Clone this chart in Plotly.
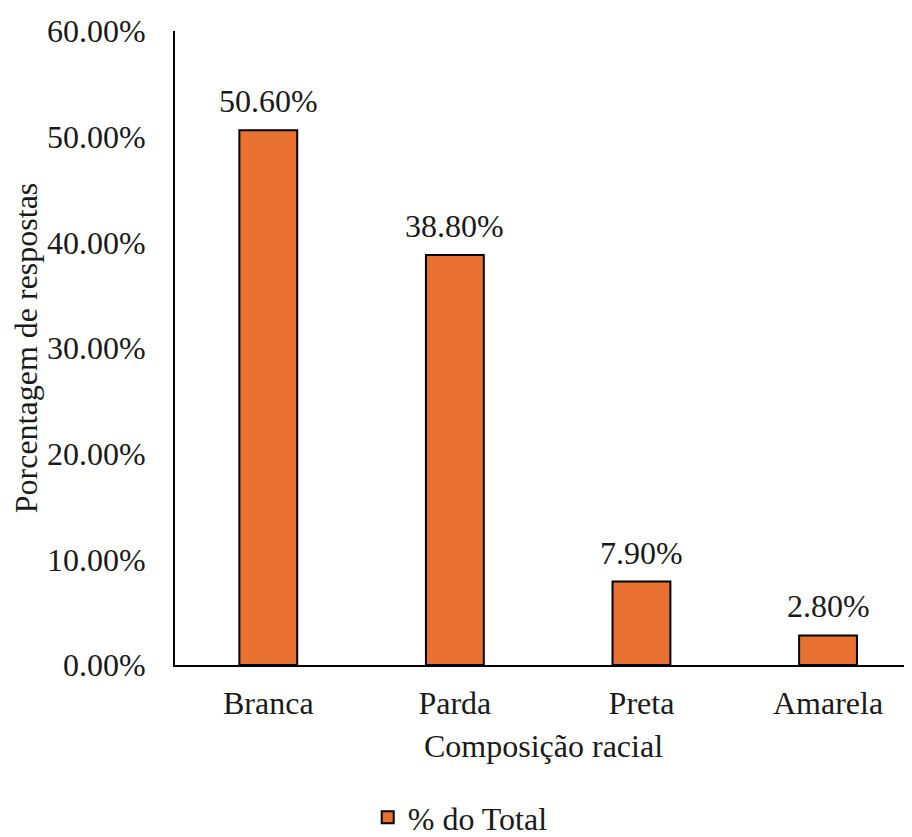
import plotly.graph_objects as go

categories = ["Branca", "Parda", "Preta", "Amarela"]
values = [50.6, 38.8, 7.9, 2.8]
labels = ["50.60%", "38.80%", "7.90%", "2.80%"]
y_ticks = [0, 10, 20, 30, 40, 50, 60]
y_tick_labels = ["0.00%", "10.00%", "20.00%", "30.00%", "40.00%", "50.00%", "60.00%"]

FONT = "Liberation Serif"
ORANGE = "#E97132"
TXT = "#1a1a1a"
FS = 32

fig = go.Figure()
fig.add_trace(go.Bar(
    x=categories, y=values, name="% do Total",
    marker=dict(color=ORANGE, line=dict(color="black", width=2)),
))

for c, v, t in zip(categories, values, labels):
    fig.add_annotation(x=c, y=v, text=t, showarrow=False, yanchor="bottom",
                       yshift=9, font=dict(family=FONT, size=FS, color=TXT))

# page has an 8px body margin, so the figure is sized 904x829
fig.update_layout(
    width=904, height=829,
    margin=dict(l=167, r=0, t=23, b=172, autoexpand=False),
    plot_bgcolor="white", paper_bgcolor="white",
    font=dict(family=FONT, size=FS, color=TXT),
    bargap=0.69,
    showlegend=True,
    legend=dict(orientation="h", x=0.387, xanchor="center", y=-0.2405, yanchor="middle",
                font=dict(family=FONT, size=FS, color=TXT)),
    xaxis=dict(range=[-0.5, 3.45], showline=True, linecolor="black", linewidth=2,
               showgrid=False, ticks="", ticklabelstandoff=9, automargin=False,
               tickfont=dict(family=FONT, size=FS, color=TXT),
               title=dict(text="Composição racial", standoff=14,
                          font=dict(family=FONT, size=FS, color=TXT))),
    yaxis=dict(range=[0, 60], tickvals=y_ticks, ticktext=y_tick_labels,
               showline=True, linecolor="black", linewidth=2, showgrid=False,
               ticks="", ticklabelstandoff=21, zeroline=False, automargin=False,
               tickfont=dict(family=FONT, size=FS, color=TXT),
               title=dict(text="Porcentagem de respostas", standoff=3,
                          font=dict(family=FONT, size=FS, color=TXT))),
)

fig.write_html("out.html")
